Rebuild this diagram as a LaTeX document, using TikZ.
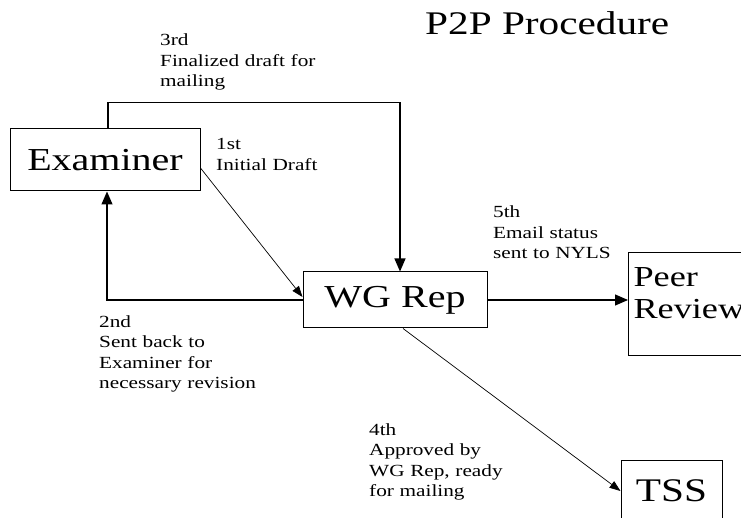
\documentclass[tikz,border=0pt]{standalone}
\usepackage{fontspec}
\setmainfont{Liberation Serif}[FakeStretch=1.25]
\usetikzlibrary{arrows.meta,positioning}

\begin{document}
\begin{tikzpicture}[x=1pt, y=-1pt,
    box/.style={rectangle, draw, line width=1pt, inner sep=0pt},
    big/.style={font=\fontsize{32}{34}\selectfont},
    note/.style={text width=200pt, align=left, inner sep=0pt, anchor=base west, font=\fontsize{17}{20.5}\selectfont},
    arrow/.style={line width=1.2pt, ->, >={Triangle[length=13pt,width=11pt]}},
    slim/.style={line width=0.7pt, ->, >={Triangle[length=11pt,width=8pt]}}]

    \clip (0,0) rectangle (741,518);

    \node [anchor=base west, inner sep=0pt, font=\fontsize{33}{36}\selectfont] (title) at (425,35) {P2P Procedure};

    \node [box, big, minimum width=190, minimum height=62] (examiner) at (105,160) {Examiner};
    \node [box, big, minimum width=184, minimum height=56] (wgrep) at (395,300) {WG Rep};
    \node [box, anchor=west, minimum width=140, minimum height=102, text width=130pt, inner xsep=5pt, align=left,
           text depth=53pt, font=\fontsize{29}{32}\selectfont] (peer) at (628,304) {Peer\\Review};
    \node [box, font=\fontsize{33}{36}\selectfont, minimum width=101, minimum height=62] (tss) at (671.5,491) {TSS};

    \draw [arrow] ([xshift=3pt]examiner.north) -- ++(0,-26) -| ([xshift=5pt]wgrep.north);
    \draw [slim] ([yshift=-8pt]examiner.east) -- ([yshift=3pt]wgrep.west);
    \draw [arrow] (wgrep.west) -| ([xshift=2pt]examiner.south);
    \draw [slim] ([xshift=8pt]wgrep.south) -- (tss.west);
    \draw [arrow] (wgrep.east) -- (wgrep.east -| peer.west);

    \node [note] (third) at (160,46) {3rd\\Finalized draft for\\mailing};
    \node [note] (first) at (216,150) {1st\\Initial Draft};
    \node [note] (second) at (99,327) {2nd\\Sent back to\\Examiner for\\necessary revision};
    \node [note] (fourth) at (369,435) {4th\\Approved by\\WG Rep, ready\\for mailing};
    \node [note] (fifth) at (493,218) {5th\\Email status\\sent to NYLS};
\end{tikzpicture}
\end{document}
